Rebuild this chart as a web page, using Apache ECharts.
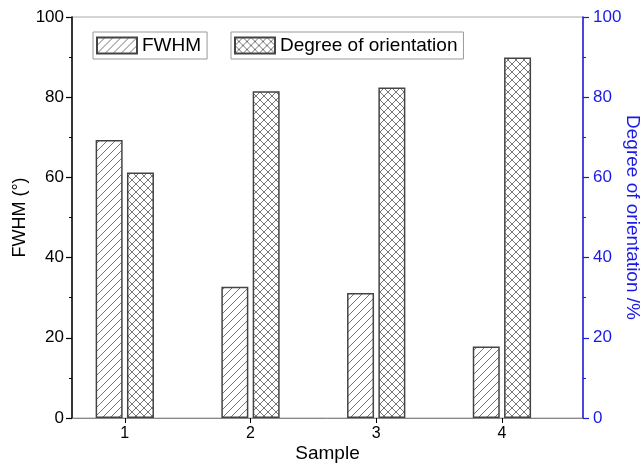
<!DOCTYPE html>
<html>
<head>
<meta charset="utf-8">
<script src="https://cdn.jsdelivr.net/npm/echarts@6/dist/echarts.min.js"></script>
<style>html,body{margin:0;padding:0;background:#fff}#c{width:644px;height:465px}</style>
</head>
<body>
<div id="c"></div>
<script>
var samples = [1, 2, 3, 4];
var fwhm = [69.3, 32.7, 31.2, 17.8];
var orientation = [61.2, 81.5, 82.4, 89.9];
var yTicks = [0, 20, 40, 60, 80, 100];

function hatch(cross) {
  var s = 8;
  var c = document.createElement('canvas');
  c.width = s; c.height = s;
  var g = c.getContext('2d');
  g.fillStyle = '#fff'; g.fillRect(0, 0, s, s);
  g.strokeStyle = '#666'; g.lineWidth = 0.9;
  g.beginPath();
  g.moveTo(-1, s + 1); g.lineTo(s + 1, -1);
  g.moveTo(-1, 1); g.lineTo(1, -1);
  g.moveTo(s - 1, s + 1); g.lineTo(s + 1, s - 1);
  if (cross) {
    g.moveTo(-1, -1); g.lineTo(s + 1, s + 1);
    g.moveTo(s - 1, -1); g.lineTo(s + 1, 1);
    g.moveTo(-1, s - 1); g.lineTo(1, s + 1);
  }
  g.stroke();
  return c;
}

var chart = echarts.init(document.getElementById('c'), null, {renderer: 'canvas'});
var font = 'Liberation Sans, Arial, sans-serif';
var blue = '#1a1ae6';
chart.setOption({
  animation: false,
  textStyle: {fontFamily: font},
  grid: {left: 72, right: 61, top: 17, bottom: 47, show: true, borderColor: '#aaa', borderWidth: 1,
         containLabel: false, outerBoundsMode: 'none'},
  legend: [
    {data: [{name: 'FWHM', icon: 'rect'}], left: 93, top: 32, itemWidth: 40, itemHeight: 16, itemGap: 6,
     padding: [4, 6, 4, 3],
     borderColor: '#999', borderWidth: 1, borderRadius: 0, selectedMode: false,
     textStyle: {fontSize: 19, color: '#000', fontFamily: font}},
    {data: [{name: 'Degree of orientation', icon: 'rect'}], left: 231, top: 32, itemWidth: 40, itemHeight: 16,
     padding: [4, 6, 4, 3],
     borderColor: '#999', borderWidth: 1, borderRadius: 0, selectedMode: false,
     textStyle: {fontSize: 19, color: '#000', fontFamily: font}}
  ],
  xAxis: {
    type: 'value', min: 0.58, max: 4.645,
    name: 'Sample', nameLocation: 'middle', nameGap: 26, nameMoveOverlap: false,
    nameTextStyle: {fontSize: 19, color: '#000', fontFamily: font, verticalAlign: 'top'},
    axisLine: {show: true, lineStyle: {color: '#888', width: 1}},
    axisTick: {show: true, customValues: samples, length: 5, lineStyle: {color: '#000'}},
    axisLabel: {customValues: samples, fontSize: 16, color: '#000', margin: 8, fontFamily: font},
    splitLine: {show: false}
  },
  yAxis: [
    {type: 'value', min: 0, max: 100, interval: 20,
     name: 'FWHM (°)', nameLocation: 'middle', nameGap: 43, nameMoveOverlap: false,
     nameTextStyle: {fontSize: 18, color: '#000', fontFamily: font},
     axisLine: {show: true, lineStyle: {color: '#000', width: 1.5}},
     axisTick: {show: true, length: 6, lineStyle: {color: '#000', width: 1.2}},
     minorTick: {show: true, splitNumber: 2, length: 3, lineStyle: {color: '#000'}},
     axisLabel: {fontSize: 17, color: '#000', margin: 8, fontFamily: font},
     splitLine: {show: false}},
    {type: 'value', min: 0, max: 100, interval: 20, position: 'right',
     name: 'Degree of orientation /%', nameLocation: 'middle', nameGap: 40, nameRotate: -90, nameMoveOverlap: false,
     nameTextStyle: {fontSize: 19, color: blue, fontFamily: font},
     axisLine: {show: true, lineStyle: {color: blue, width: 1.5}},
     axisTick: {show: true, length: 6, lineStyle: {color: blue, width: 1.2}},
     minorTick: {show: true, splitNumber: 2, length: 3, lineStyle: {color: blue}},
     axisLabel: {fontSize: 17, color: blue, margin: 10, fontFamily: font},
     splitLine: {show: false}}
  ],
  series: [
    {name: 'FWHM', type: 'bar', yAxisIndex: 0, barWidth: 27, barGap: '16%',
     data: samples.map(function (s, i) { return [s, fwhm[i]]; }),
     itemStyle: {color: {image: hatch(false), repeat: 'repeat'}, borderColor: '#444', borderWidth: 1.5}},
    {name: 'Degree of orientation', type: 'bar', yAxisIndex: 1, barWidth: 27, barGap: '16%',
     data: samples.map(function (s, i) { return [s, orientation[i]]; }),
     itemStyle: {color: {image: hatch(true), repeat: 'repeat'}, borderColor: '#444', borderWidth: 1.5}}
  ]
});
</script>
</body>
</html>
